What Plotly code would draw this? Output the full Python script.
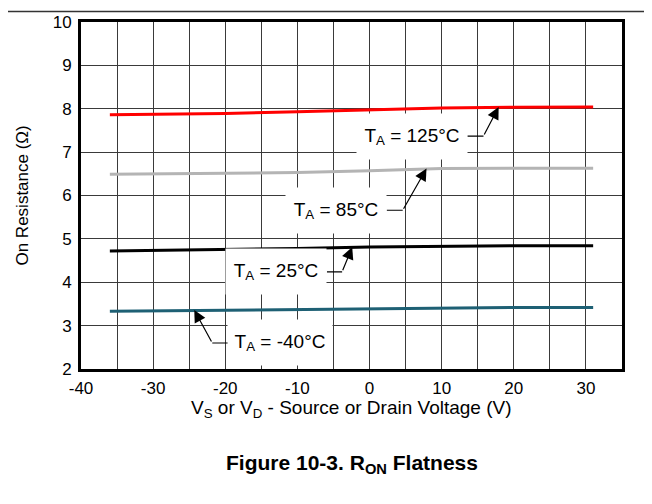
import plotly.graph_objects as go

# On-resistance vs. source/drain voltage, one curve per ambient temperature
v_s = [-36, -30, -20, -10, 0, 5, 10, 20, 31]
r_125 = [7.86, 7.87, 7.89, 7.93, 7.98, 8.00, 8.02, 8.035, 8.04]
r_85 = [6.49, 6.50, 6.51, 6.53, 6.57, 6.60, 6.62, 6.63, 6.63]
r_25 = [4.72, 4.73, 4.75, 4.78, 4.81, 4.82, 4.83, 4.84, 4.84]
r_m40 = [3.33, 3.34, 3.35, 3.37, 3.39, 3.40, 3.41, 3.42, 3.42]

series = [
    ("125", r_125, "#FF0000"),
    ("85", r_85, "#B4B4B4"),
    ("25", r_25, "#000000"),
    ("-40", r_m40, "#1E6074"),
]

x_ticks = [-40, -30, -20, -10, 0, 10, 20, 30]
x_ticktext = [str(v) for v in x_ticks]  # plain hyphens, like the datasheet

# callouts: label, text centre, knee of the leader, arrow tip (data units)
labels = ["125", "85", "25", "-40"]
text_xy = [(5.9, 7.37), (-4.6, 5.66), (-12.9, 4.24), (-12.4, 2.60)]
knee_xy = [(15.8, 7.37), (4.6, 5.66), (-3.8, 4.24), (-21.8, 2.60)]
tip_xy = [(17.9, 8.04), (7.9, 6.62), (-2.4, 4.81), (-24.3, 3.36)]
box_w = [110, 100, 100, 104]

FONT = "Arial, Liberation Sans, sans-serif"

fig = go.Figure()

for name, r, col in series:
    fig.add_trace(
        go.Scatter(
            x=v_s,
            y=r,
            mode="lines",
            line=dict(color=col, width=3),
            name=name,
            showlegend=False,
            hoverinfo="skip",
        )
    )

for lab, (tx, ty), (kx, ky), (px, py), w in zip(labels, text_xy, knee_xy, tip_xy, box_w):
    # label box with a plain leader running to the knee
    fig.add_annotation(
        x=kx,
        y=ky,
        ax=tx,
        ay=ty,
        xref="x",
        yref="y",
        axref="x",
        ayref="y",
        text=f"T<sub>A</sub> = {lab}°C",
        font=dict(family=FONT, size=19, color="black"),
        bgcolor="white",
        width=w,
        height=45,
        borderpad=0,
        showarrow=True,
        arrowhead=0,
        arrowwidth=1.2,
        arrowcolor="black",
        standoff=0,
    )
    # knee -> curve, with a filled head
    fig.add_annotation(
        x=px,
        y=py,
        ax=kx,
        ay=ky,
        xref="x",
        yref="y",
        axref="x",
        ayref="y",
        text="",
        showarrow=True,
        arrowhead=2,
        arrowsize=2,
        arrowwidth=1.2,
        arrowcolor="black",
        standoff=0,
    )

# axis titles as free annotations so the plot box stays where it is
fig.add_annotation(
    x=0.5,
    y=-0.115,
    xref="paper",
    yref="paper",
    text="V<sub>S</sub> or V<sub>D</sub> - Source or Drain Voltage (V)",
    showarrow=False,
    font=dict(family=FONT, size=19, color="black"),
    xanchor="center",
    yanchor="middle",
)
fig.add_annotation(
    x=-0.109,
    y=0.5,
    xref="paper",
    yref="paper",
    text="On Resistance (Ω)",
    textangle=-90,
    showarrow=False,
    font=dict(family=FONT, size=17, color="black"),
    xanchor="center",
    yanchor="middle",
)

# figure caption below the chart
fig.add_annotation(
    x=0.5,
    y=-0.274,
    xref="paper",
    yref="paper",
    text="<b>Figure 10-3. R<sub>ON</sub> Flatness</b>",
    showarrow=False,
    font=dict(family=FONT, size=21, color="black"),
    xanchor="center",
    yanchor="middle",
)

# thin page rule along the top
fig.add_shape(
    type="line",
    xref="paper",
    yref="paper",
    x0=-0.16,
    x1=1.07,
    y0=1.03,
    y1=1.03,
    line=dict(color="#333333", width=1.5),
)

fig.update_xaxes(
    range=[-40, 35],
    tickvals=x_ticks,
    ticktext=x_ticktext,
    showgrid=True,
    gridcolor="#3a3a3a",
    gridwidth=1,
    minor=dict(dtick=5, tick0=0, showgrid=True, gridcolor="#3a3a3a", gridwidth=1),
    zeroline=False,
    showline=True,
    linecolor="black",
    linewidth=3,
    mirror=True,
    ticks="",
    ticklabelstandoff=2,
    automargin=False,
    tickfont=dict(family=FONT, size=17, color="black"),
)
fig.update_yaxes(
    range=[2, 10],
    dtick=1,
    showgrid=True,
    gridcolor="#3a3a3a",
    gridwidth=1,
    zeroline=False,
    showline=True,
    linecolor="black",
    linewidth=3,
    mirror=True,
    ticks="",
    ticklabelstandoff=3,
    automargin=False,
    tickfont=dict(family=FONT, size=17, color="black"),
)

# the page body adds an 8 px offset, so the figure is sized to fit inside it
fig.update_layout(
    width=644,
    height=496,
    margin=dict(l=73, r=30, t=14, b=135),
    plot_bgcolor="white",
    paper_bgcolor="white",
)

fig.write_html("out.html")
